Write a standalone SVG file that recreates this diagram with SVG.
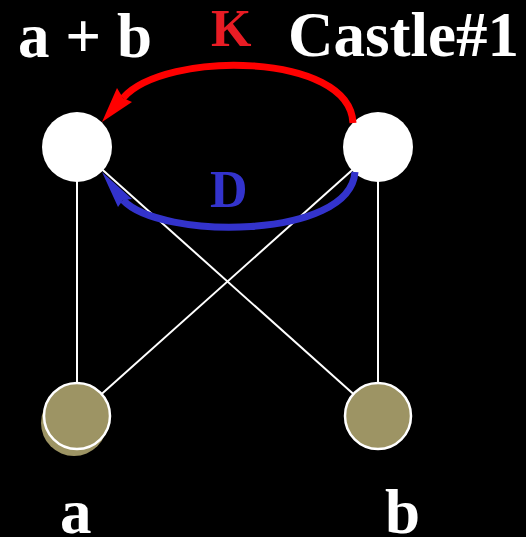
<svg xmlns="http://www.w3.org/2000/svg" width="526" height="537" viewBox="0 0 526 537">
<style>
.t{font-family:"Liberation Serif","Times New Roman",serif;font-weight:bold}
.w{fill:#ffffff}
.edge{stroke:#ffffff;stroke-width:2;fill:none}
.top{fill:#ffffff}
.leaf{fill:#9d9464;stroke:#ffffff;stroke-width:2.5}
.shadow{fill:#9d9464}
</style>
<rect width="526" height="537" fill="#000000"/>
<g id="connectors">
<line class="edge" x1="77" y1="147" x2="77" y2="416"/>
<line class="edge" x1="378" y1="147" x2="378" y2="416"/>
<line class="edge" x1="77" y1="147" x2="378" y2="416"/>
<line class="edge" x1="378" y1="147" x2="77" y2="416"/>
</g>
<g id="node-ab"><circle class="top" cx="77" cy="147" r="35"/><text class="t w" x="18" y="57" font-size="63">a + b</text></g>
<g id="node-castle"><circle class="top" cx="378" cy="147" r="35"/><text class="t w" x="288" y="56" font-size="63">Castle#1</text></g>
<g id="node-a"><circle class="shadow" cx="74" cy="423" r="33"/><circle class="leaf" cx="77" cy="416" r="33"/><text class="t w" x="60" y="533" font-size="63">a</text></g>
<g id="node-b"><circle class="leaf" cx="378" cy="416" r="33"/><text class="t w" x="385" y="533" font-size="63">b</text></g>
<g id="arcs">
<path d="M353,123 C350,52 165,50 123,98" fill="none" stroke="#ff0000" stroke-width="7"/>
<polygon points="102,122 117,88 123,98 132,102" fill="#ff0000"/>
<text class="t" x="211" y="46" font-size="52" fill="#e81c24">K</text>
<path d="M355,172 C350,240 160,240 123,200" fill="none" stroke="#3333cc" stroke-width="7"/>
<polygon points="102,172 132,199 123,200 118,207" fill="#3333cc"/>
<text class="t" x="210" y="207" font-size="52" fill="#3333cc">D</text>
</g>
</svg>
